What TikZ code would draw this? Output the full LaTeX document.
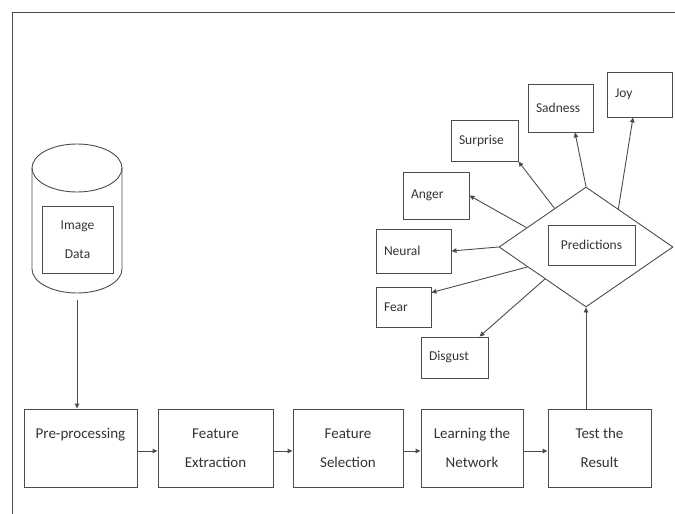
\documentclass[tikz,border=0pt]{standalone}
\usepackage{fontspec}
\setmainfont{Carlito}
\usetikzlibrary{shapes.geometric,arrows.meta,calc}
\begin{document}
\begin{tikzpicture}[x=1pt,y=-1pt,
 line width=0.9pt,
 ln/.style={draw=black!70},
 arr/.style={draw=black!70,-{Triangle[length=5pt,width=4.5pt]}},
 stepbox/.style={draw=black!70, minimum height=78pt, inner sep=0pt, align=center,
   font=\fontsize{15}{29}\selectfont, text=black!80},
 emo/.style={draw=black!70, inner xsep=8pt, inner ysep=0pt, align=left,
   font=\fontsize{13.5}{16}\selectfont, text=black!80},
 inbox/.style={draw=black!70, inner sep=0pt, align=center,
   font=\fontsize{13.5}{29}\selectfont, text=black!80}
]
\useasboundingbox (0,0) rectangle (675,514);
% frame
\draw[ln] (12,514) -- (12,12) -- (675,12);

% cylinder
\node[minimum width=90pt, minimum height=149pt, inner sep=0pt] (cyl) at (77,218.5) {};
\draw[ln] (32,168) -- (32,269) arc[start angle=180, end angle=0, x radius=45, y radius=24] -- (122,168);
\draw[ln] (77,168) ellipse [x radius=45, y radius=24];
\node[inbox, minimum width=71pt, minimum height=67pt] (img) at (77.5,239.5) {Image\\Data};

% bottom row
\node[stepbox, minimum width=113pt] (pre) at (80.5,448) {Pre-processing\\\mbox{}};
\node[stepbox, minimum width=115pt] (fe) at (215.5,448) {Feature\\Extraction};
\node[stepbox, minimum width=110pt] (fs) at (348,448) {Feature\\Selection};
\node[stepbox, minimum width=102pt] (lrn) at (472,448) {Learning the\\Network};
\node[stepbox, minimum width=103pt] (tr) at (599.5,448) {Test the\\Result};

\draw[arr] ([yshift=-7pt]cyl.south) -- ([xshift=-3.5pt]pre.north);
\draw[arr] ([yshift=-3pt]pre.east) -- ([yshift=-3pt]fe.west);
\draw[arr] ([yshift=-3pt]fe.east) -- ([yshift=-3pt]fs.west);
\draw[arr] ([yshift=-3pt]fs.east) -- ([yshift=-3pt]lrn.west);
\draw[arr] ([yshift=-3pt]lrn.east) -- ([yshift=-3pt]tr.west);

% diamond
\node[draw=black!70, diamond, minimum width=174pt, minimum height=120pt, inner sep=0pt] (dia) at (586,247) {};
\node[inbox, minimum width=87pt, minimum height=40pt] (pred) at (591.5,245) {Predictions};
\draw[arr] ([xshift=-13.5pt]tr.north) -- (dia.south);

% emotions
\node[emo, text width=51pt, minimum height=41pt] (surprise) at (484.5,140.5) {Surprise};
\node[emo, text width=50pt, minimum height=47pt] (anger) at (436,195.5) {Anger};
\node[emo, text width=59pt, minimum height=44pt] (neural) at (413.5,251) {Neural};
\node[emo, text width=39pt, minimum height=40pt] (fear) at (403.5,307) {Fear};
\node[emo, text width=51pt, minimum height=41pt] (disgust) at (454.5,357.5) {Disgust};
\node[emo, text width=49pt, minimum height=48pt] (sadness) at (560.5,108) {Sadness};
\node[emo, text width=49pt, minimum height=45pt] (joy) at (639.5,94.5) {Joy};

\draw[arr] (dia.north) -- ([xshift=14.5pt]sadness.south);
\draw[arr] ($(dia.north)!0.37!(dia.east)$) -- ([xshift=-6.5pt]joy.south);
\draw[arr] ($(dia.west)!0.64!(dia.north)$) -- (surprise.south east);
\draw[arr] ($(dia.west)!0.32!(dia.north)$) -- (anger.east);
\draw[arr] (dia.west) -- (neural.east);
\draw[arr] ($(dia.west)!0.33!(dia.south)$) -- ([yshift=-6pt]fear.north east);
\draw[arr] ($(dia.west)!0.53!(dia.south)$) -- ([xshift=25pt]disgust.north);
\end{tikzpicture}
\end{document}
